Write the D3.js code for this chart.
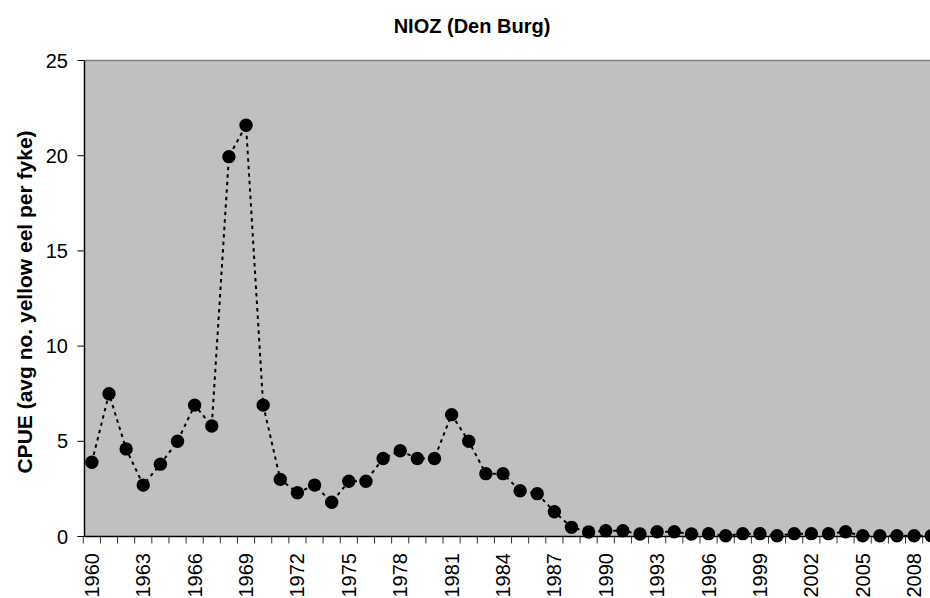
<!DOCTYPE html>
<html><head><meta charset="utf-8">
<script src="https://cdn.jsdelivr.net/npm/d3@7/dist/d3.min.js"></script>
<style>html,body{margin:0;padding:0;background:#fff;overflow:hidden}svg{display:block}</style>
</head><body>
<svg id="chart" width="930" height="598"></svg>
<script>
const years = d3.range(1960, 2010).map(String);
const cpue = [3.9, 7.5, 4.6, 2.7, 3.8, 5.0, 6.9, 5.8, 19.95, 21.6,
              6.9, 3.0, 2.3, 2.7, 1.8, 2.9, 2.9, 4.1, 4.5, 4.1,
              4.1, 6.4, 5.0, 3.3, 3.3, 2.4, 2.25, 1.3, 0.48, 0.24,
              0.3, 0.3, 0.13, 0.25, 0.25, 0.13, 0.15, 0.04, 0.15, 0.15,
              0.04, 0.15, 0.15, 0.15, 0.25, 0.04, 0.04, 0.04, 0.04, 0.04];
const yTicks = [0, 5, 10, 15, 20, 25];
const labelYears = years.filter((yr, i) => i % 3 === 0);

(function () {
const svg = d3.select("#chart");
const pLeft = 84.5, pTop = 60.5, pBottom = 536.5, pRight = 940;
const x = d3.scaleBand().domain(years).range([83.3, 939.8]);
const y = d3.scaleLinear().domain([0, 25]).range([pBottom, pTop]);
const FONT = "Liberation Sans, Arial, sans-serif";

svg.append("rect").attr("x", pLeft).attr("y", pTop)
  .attr("width", pRight - pLeft).attr("height", pBottom - pTop)
  .attr("fill", "#c0c0c0");
svg.append("line").attr("x1", pLeft).attr("x2", pRight).attr("y1", pTop).attr("y2", pTop)
  .attr("stroke", "#808080").attr("stroke-width", 1.5);

// y axis
const yAxis = svg.append("g");
yAxis.append("line").attr("x1", pLeft).attr("x2", pLeft).attr("y1", pTop).attr("y2", pBottom)
  .attr("stroke", "#000").attr("stroke-width", 1.5);
yTicks.forEach(t => {
  yAxis.append("line").attr("x1", pLeft - 7).attr("x2", pLeft).attr("y1", y(t)).attr("y2", y(t))
    .attr("stroke", "#000").attr("stroke-width", 1);
  yAxis.append("text").attr("x", 68).attr("y", y(t)).attr("dy", "0.35em")
    .attr("text-anchor", "end").attr("font-family", FONT)
    .attr("font-size", 20).attr("fill", "#000").text(t);
});

// x axis
const xAxis = svg.append("g");
xAxis.append("line").attr("x1", pLeft).attr("x2", pRight).attr("y1", pBottom).attr("y2", pBottom)
  .attr("stroke", "#000").attr("stroke-width", 1.5);
years.forEach(yr => {
  const xs = x(yr);
  xAxis.append("line").attr("x1", xs).attr("x2", xs).attr("y1", pBottom).attr("y2", pBottom + 7)
    .attr("stroke", "#333").attr("stroke-width", 1);
});
labelYears.forEach(yr => {
  const cx = x(yr) + x.bandwidth() / 2;
  xAxis.append("text")
    .attr("transform", `translate(${cx + 7},${553}) rotate(-90)`)
    .attr("text-anchor", "end").attr("font-family", FONT)
    .attr("font-size", 20).attr("fill", "#000").text(yr);
});

// line
const cxOf = (d, i) => x(years[i]) + x.bandwidth() / 2;
const line = d3.line().x((d, i) => cxOf(d, i)).y(d => y(d));
svg.append("path").datum(cpue).attr("d", line)
  .attr("fill", "none").attr("stroke", "#000").attr("stroke-width", 2)
  .attr("stroke-dasharray", "3.5,4");
svg.append("g").selectAll("circle").data(cpue).join("circle")
  .attr("cx", (d, i) => cxOf(d, i)).attr("cy", d => y(d)).attr("r", 6.7)
  .attr("fill", "#000");

// titles
svg.append("text").attr("x", 472).attr("y", 33).attr("text-anchor", "middle")
  .attr("font-family", FONT).attr("font-weight", "bold")
  .attr("font-size", 20).attr("fill", "#000").text("NIOZ (Den Burg)");
svg.append("text").attr("transform", "translate(32,302) rotate(-90)").attr("text-anchor", "middle")
  .attr("font-family", FONT).attr("font-weight", "bold")
  .attr("font-size", 21).attr("fill", "#000").text("CPUE (avg no. yellow eel per fyke)");
})();
</script>
</body></html>
